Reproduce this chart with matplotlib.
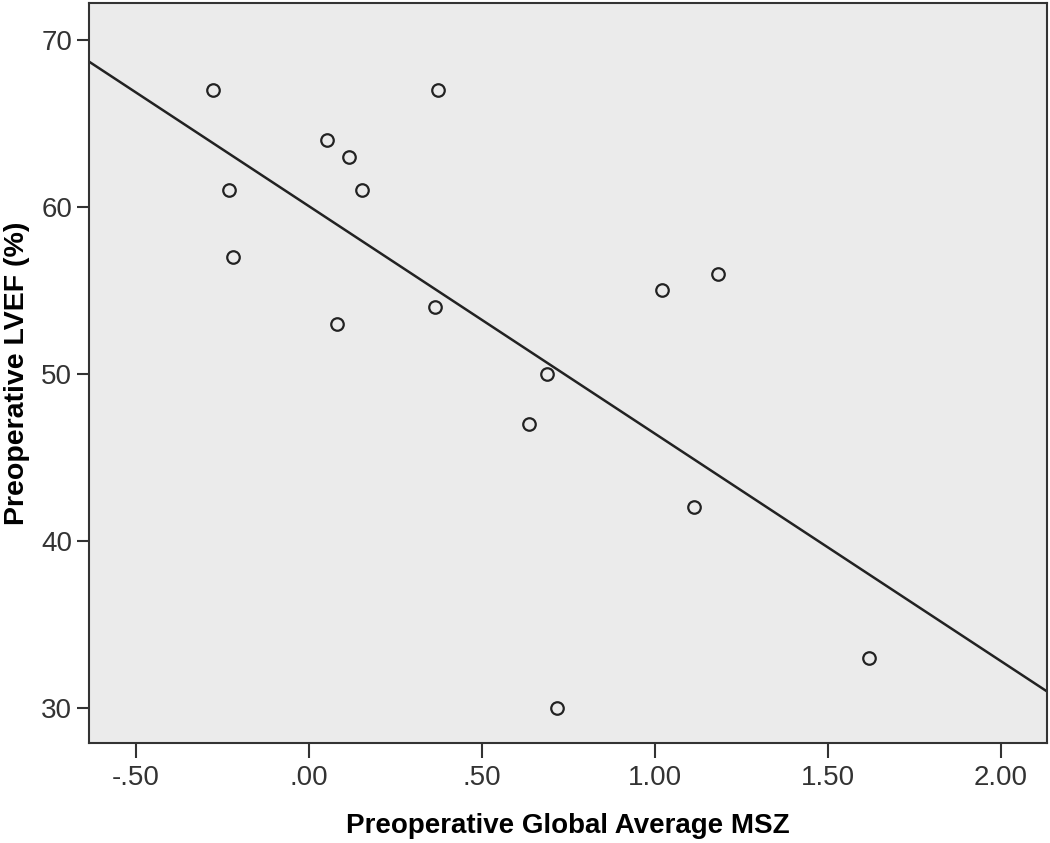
import numpy as np
import matplotlib.pyplot as plt

plt.rcParams['font.family'] = ['Liberation Sans', 'DejaVu Sans']

# Preoperative global average MSZ vs LVEF
msz = [-0.277, -0.231, -0.220, 0.052, 0.116, 0.153, 0.373, 0.081,
       0.364, 0.688, 0.636, 1.020, 1.182, 1.113, 0.717, 1.618]
lvef = [67, 61, 57, 64, 63, 61, 67, 53,
        54, 50, 47, 55, 56, 42, 30, 33]

xticks = [-0.5, 0.0, 0.5, 1.0, 1.5, 2.0]
xticklabels = ['-.50', '.00', '.50', '1.00', '1.50', '2.00']
yticks = [30, 40, 50, 60, 70]

fig = plt.figure(figsize=(10.5, 8.43), dpi=100)
ax = fig.add_axes([0.0848, 0.1186, 0.9122, 0.8778])
ax.set_facecolor('#ebebeb')

xlim = (-0.636, 2.133)
ylim = (27.9, 72.2)

# least squares fit line across the full x range
slope, intercept = np.polyfit(msz, lvef, 1)
xs = np.array(xlim)
ax.plot(xs, slope * xs + intercept, color='#222222', lw=1.8, zorder=2)

ax.plot(msz, lvef, linestyle='none', marker='o', markersize=9,
        markerfacecolor='none', markeredgecolor='#222222',
        markeredgewidth=1.6, zorder=3)

ax.set_xlim(*xlim)
ax.set_ylim(*ylim)
ax.set_xticks(xticks)
ax.set_xticklabels(xticklabels)
ax.set_yticks(yticks)

for sp in ax.spines.values():
    sp.set_color('#333333')
    sp.set_linewidth(1.5)

ax.tick_params(axis='x', length=10.8, width=1.5, color='#333333',
               labelsize=20, labelcolor='#333333', pad=5)
ax.tick_params(axis='y', length=8.6, width=1.5, color='#333333',
               labelsize=20, labelcolor='#333333', pad=3.6)

ax.set_xlabel('Preoperative Global Average MSZ', fontsize=20,
              fontweight='bold', labelpad=16)
ax.set_ylabel('Preoperative LVEF (%)', fontsize=20.5,
              fontweight='bold', labelpad=8)

fig.savefig('out.png', dpi=100)
